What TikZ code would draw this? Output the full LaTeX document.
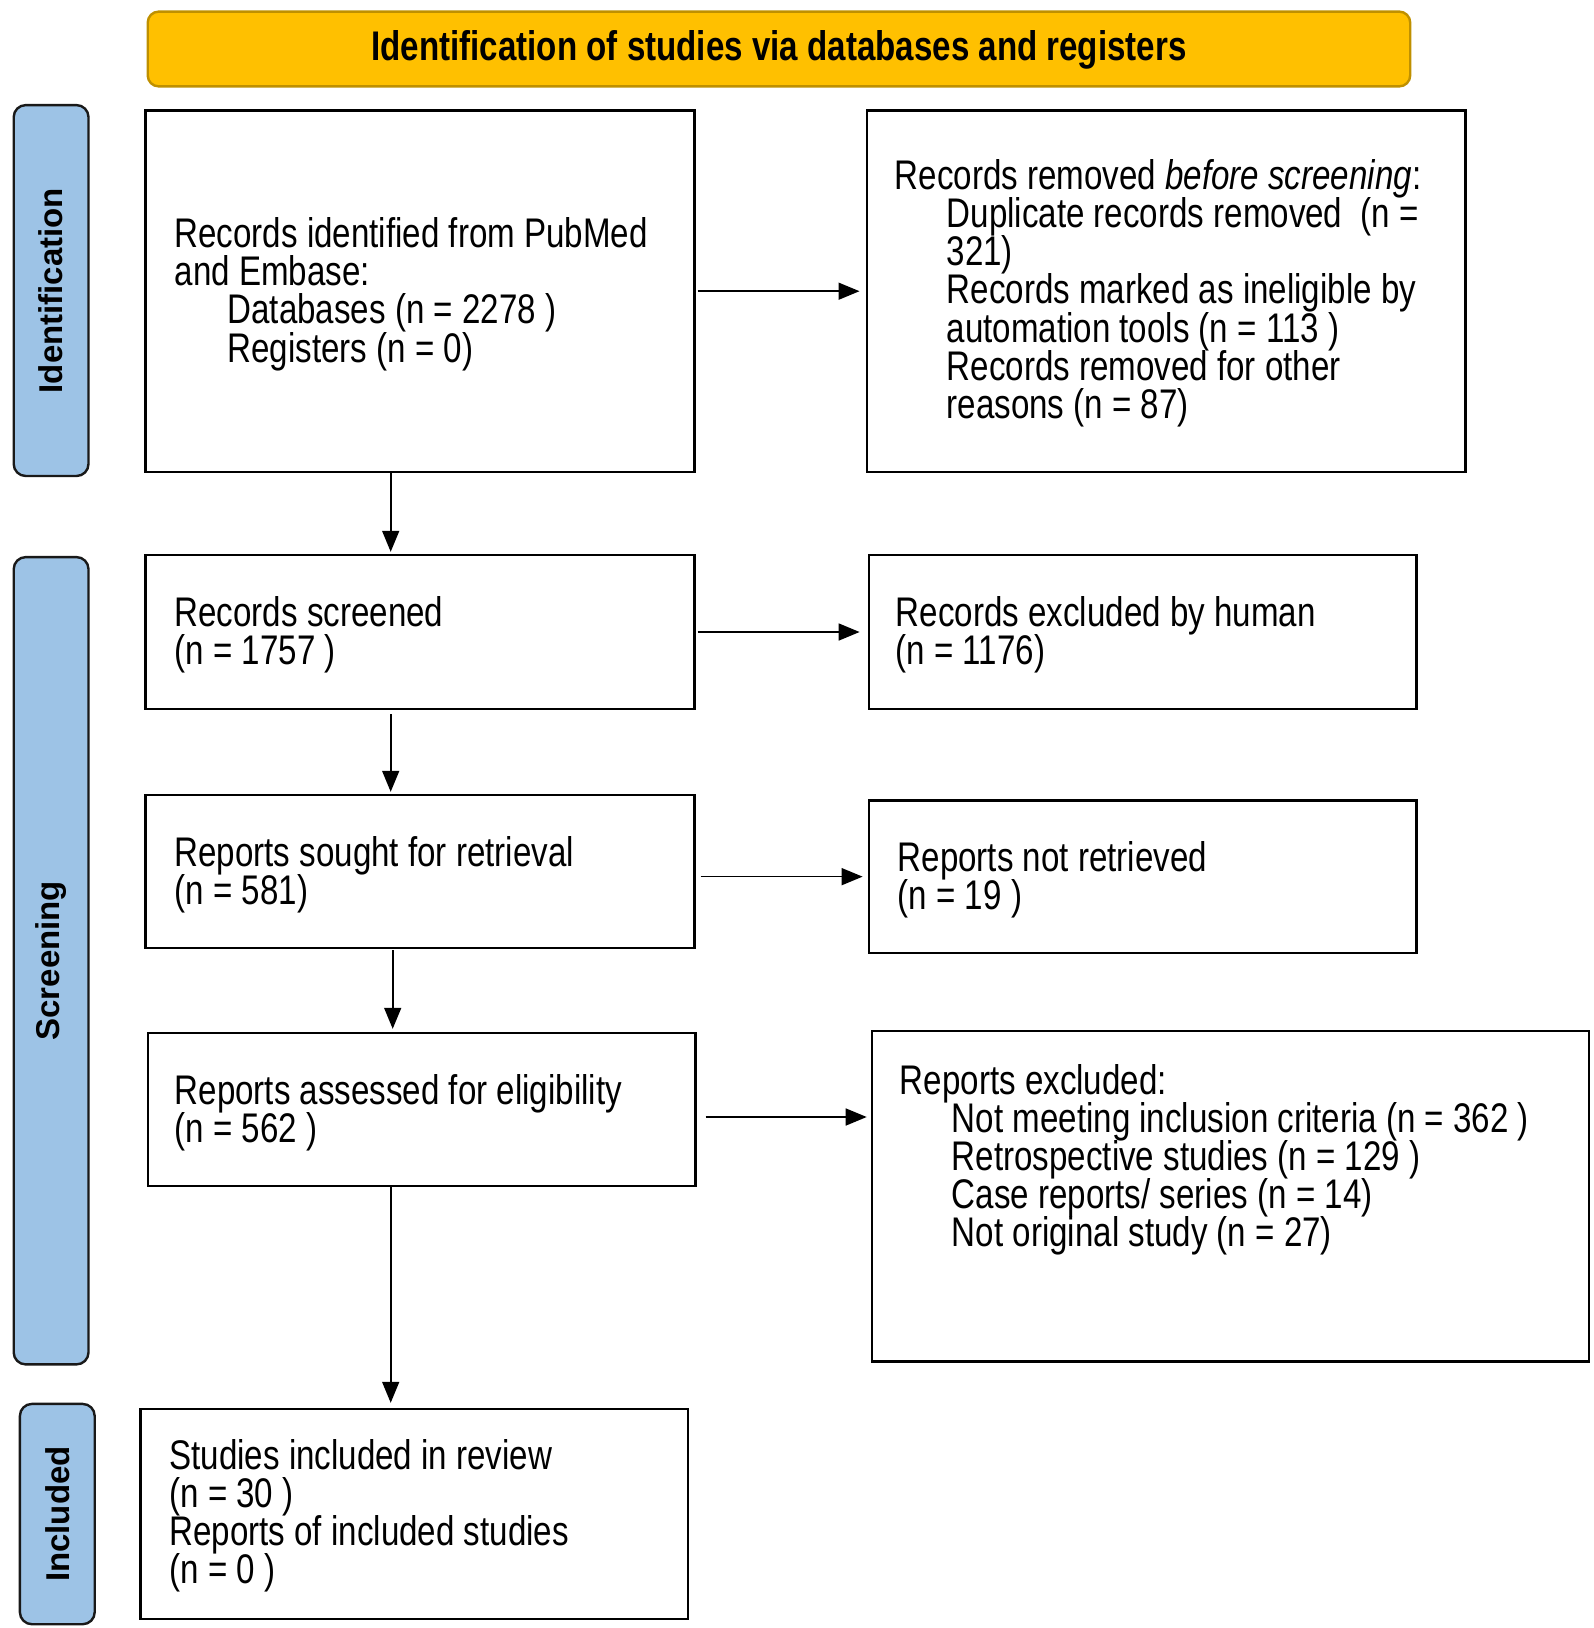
\documentclass[tikz,border=0pt]{standalone}
\usepackage{fontspec}
\setmainfont{Liberation Sans}
\newfontfamily\bodyfont[FakeStretch=0.8]{Liberation Sans}
\newfontfamily\sidefont{Liberation Sans}
\usetikzlibrary{arrows.meta,calc}
\definecolor{hdrfill}{HTML}{FFC000}
\definecolor{hdrdraw}{HTML}{BF9000}
\definecolor{sidefill}{HTML}{9DC3E6}
\newcommand\mytightlines{\setlength{\lineskiplimit}{-30pt}\setlength{\lineskip}{0pt}}
\begin{document}
\begin{tikzpicture}[x=1pt,y=-1pt,
  box/.style={draw=black, line width=2.6pt, fill=white, rectangle, anchor=north west, inner sep=0pt},
  txt/.style={align=left, inner sep=0pt, anchor=west, font=\bodyfont\fontsize{41.4}{38.1}\selectfont\mytightlines},
  side/.style={draw=black!90, line width=2.4pt, fill=sidefill, rounded corners=12pt, anchor=north west, inner sep=0pt},
  sidetxt/.style={rotate=90, inner sep=0pt, font=\sidefont\bfseries\fontsize{33}{38}\selectfont},
  hdr/.style={draw=hdrdraw, line width=2.4pt, fill=hdrfill, rounded corners=11pt, anchor=north west, inner sep=0pt},
  arr/.style={line width=1.6pt, -{Triangle[length=21pt,width=17pt]}},
]
\useasboundingbox (0,0) rectangle (1594,1628);

% header
\node[hdr, minimum width=1262.5pt, minimum height=74.8pt] (hd) at (146.5,10.4) {};
\node[font=\bodyfont\bfseries\fontsize{41.4}{38.3}\selectfont, inner sep=0pt] (hdt) at ($(hd.center)+(0,1)$) {Identification of studies via databases and registers};

% side labels
\node[side, minimum width=74.8pt, minimum height=370.9pt] (sid) at (12.5,103.9) {};
\node[sidetxt] (sidt) at (sid.center) {Identification};
\node[side, minimum width=74.8pt, minimum height=807.3pt] (sscr) at (12.5,555.9) {};
\node[sidetxt] (sscrt) at (sscr.center) {Screening};
\node[side, minimum width=74.8pt, minimum height=220.3pt] (sinc) at (18.7,1402.7) {};
\node[sidetxt] (sinct) at (sinc.center) {Included};

% boxes
\node[box, minimum width=548.6pt, minimum height=361.6pt] (b1) at (144.4,109.1) {};
\node[box, minimum width=598.5pt, minimum height=361.6pt] (b2) at (865.5,109.1) {};
\node[box, minimum width=548.6pt, minimum height=153.8pt] (b3) at (144.4,553.8) {};
\node[box, minimum width=547.6pt, minimum height=153.8pt] (b4) at (867.6,553.8) {};
\node[box, minimum width=548.6pt, minimum height=152.8pt] (b5) at (144.4,793.8) {};
\node[box, minimum width=547.6pt, minimum height=152.7pt] (b6) at (867.6,799) {};
\node[box, minimum width=547.5pt, minimum height=152.7pt] (b7) at (146.5,1031.8) {};
\node[box, minimum width=716.9pt, minimum height=330.3pt] (b8) at (870.7,1029.7) {};
\node[box, minimum width=547.6pt, minimum height=209.9pt] (b9) at (139.2,1407.8) {};

% texts
\node[txt] (t1) at ($(b1.west)+(30,3)$) {Records identified from PubMed\\and Embase:\\\hspace*{53pt}Databases (n = 2278 )\\\hspace*{53pt}Registers (n = 0)};
\node[txt] (t2) at ($(b2.west)+(29,2)$) {Records removed \textit{before screening}:\\\hspace*{52pt}Duplicate records removed\ \ (n =\\\hspace*{52pt}321)\\\hspace*{52pt}Records marked as ineligible by\\\hspace*{52pt}automation tools (n = 113 )\\\hspace*{52pt}Records removed for other\\\hspace*{52pt}reasons (n = 87)};
\node[txt] (t3) at ($(b3.west)+(30,3)$) {Records screened\\(n = 1757 )};
\node[txt] (t4) at ($(b4.west)+(28,3)$) {Records excluded by human\\(n = 1176)};
\node[txt] (t5) at ($(b5.west)+(30,3)$) {Reports sought for retrieval\\(n = 581)};
\node[txt] (t6) at ($(b6.west)+(30,3)$) {Reports not retrieved\\(n = 19 )};
\node[txt] (t7) at ($(b7.west)+(28,3)$) {Reports assessed for eligibility\\(n = 562 )};
\node[txt] (t8) at ($(b8.north west)+(29,130)$) {Reports excluded:\\\hspace*{52pt}Not meeting inclusion criteria (n = 362 )\\\hspace*{52pt}Retrospective studies (n = 129 )\\\hspace*{52pt}Case reports/ series (n = 14)\\\hspace*{52pt}Not original study (n = 27)};
\node[txt] (t9) at ($(b9.west)+(30,2)$) {Studies included in review\\(n = 30 )\\Reports of included studies\\(n = 0 )};

% connectors
\coordinate (cx1) at (390.7,0);
\coordinate (cx2) at (392.7,0);
\coordinate (cy78) at (0,1117);
\draw[arr, shorten <=2pt, shorten >=6pt] (b1.east) -- (b2.west);
\draw[arr, shorten >=2pt] (b1.south -| cx1) -- (b3.north -| cx1);
\draw[arr, shorten <=2pt, shorten >=8pt] (b3.east) -- (b4.west);
\draw[arr, shorten <=4pt, shorten >=2pt] (b3.south -| cx1) -- (b5.north -| cx1);
\draw[arr, shorten <=5pt, shorten >=5pt] (b5.east |- b6.west) -- (b6.west);
\draw[arr, shorten <=1pt, shorten >=3pt] (b5.south -| cx2) -- (b7.north -| cx2);
\draw[arr, shorten <=9pt, shorten >=4pt] (b7.east |- cy78) -- (b8.west |- cy78);
\draw[arr, shorten >=5pt] (b7.south -| cx1) -- (b9.north -| cx1);
\end{tikzpicture}
\end{document}
